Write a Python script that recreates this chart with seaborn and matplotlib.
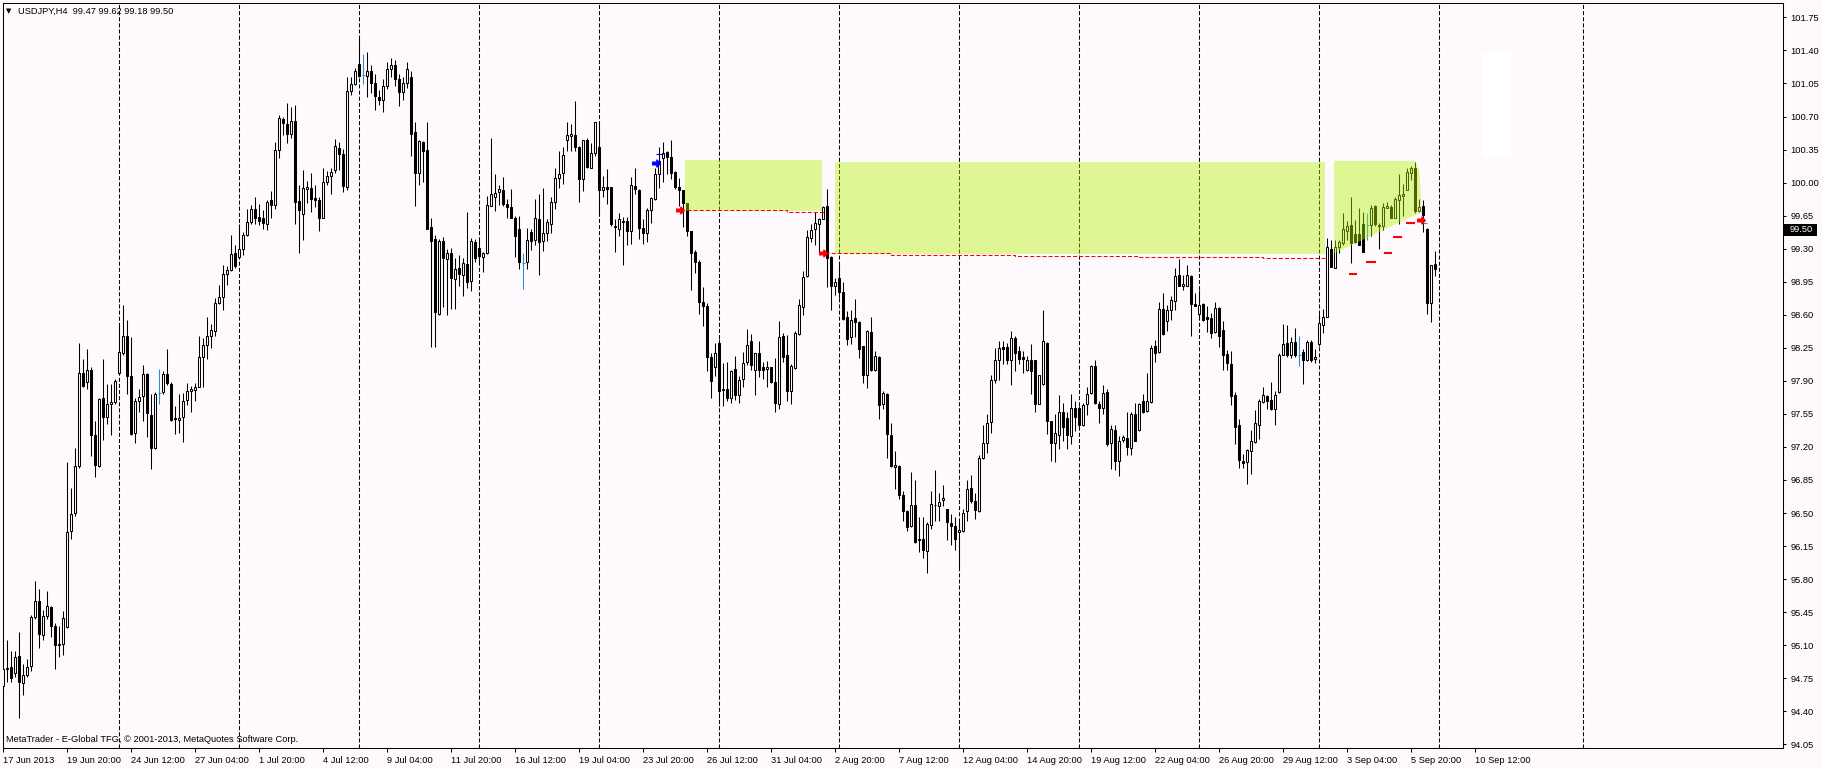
import numpy as np
import matplotlib
matplotlib.use('Agg')
import matplotlib.pyplot as plt
import matplotlib.transforms as mtransforms
from matplotlib.patches import Rectangle, Polygon
from matplotlib.path import Path
import seaborn as sns

# USDJPY H4 candles, bar index 0 = 17 Jun 2013 00:00
opens = [
    94.67, 94.85, 94.87, 94.81, 94.99, 94.70, 94.78, 94.88, 95.40, 95.57,
    95.21, 95.41, 95.50, 95.30, 95.11, 95.11, 95.29, 96.31, 96.50, 97.00,
    97.98, 97.89, 98.02, 97.33, 97.00, 97.72, 97.52, 97.66, 97.68, 97.98,
    98.20, 98.38, 97.95, 97.35, 97.69, 97.74, 97.97, 97.54, 97.19, 97.77,
    97.78, 97.97, 97.87, 97.51, 97.49, 97.52, 97.70, 97.79, 97.80, 97.83,
    98.15, 98.28, 98.38, 98.43, 98.72, 98.79, 99.03, 99.07, 99.25, 99.21,
    99.30, 99.44, 99.58, 99.72, 99.64, 99.62, 99.56, 99.82, 99.76, 100.35,
    100.67, 100.62, 100.51, 100.65, 99.81, 99.67, 99.93, 99.94, 99.84, 99.82,
    99.63, 100.01, 100.07, 100.13, 100.37, 100.30, 99.95, 100.97, 101.04, 101.26,
    101.14, 101.13, 101.18, 101.05, 100.91, 100.88, 101.02, 101.20, 101.25, 101.10,
    100.96, 101.06, 101.12, 100.54, 100.10, 100.43, 100.35, 99.53, 99.40, 98.61,
    99.38, 99.19, 99.25, 98.98, 99.10, 99.02, 99.14, 98.96, 99.37, 99.31,
    99.21, 99.25, 99.75, 99.85, 99.90, 99.92, 99.77, 99.74, 99.63, 99.51,
    99.15, 99.16, 99.48, 99.39, 99.61, 99.38, 99.47, 99.56, 99.80, 100.05,
    100.10, 100.45, 100.49, 100.50, 100.38, 100.04, 100.45, 100.16, 100.31, 100.38,
    99.92, 99.95, 99.95, 99.54, 99.51, 99.59, 99.59, 99.49, 99.96, 99.92,
    99.52, 99.47, 99.71, 99.83, 100.09, 100.26, 100.32, 100.27, 100.11, 99.95,
    99.92, 99.78, 99.49, 99.27, 99.16, 98.74, 98.69, 98.15, 98.05, 98.30,
    97.80, 97.81, 97.72, 98.03, 97.75, 97.92, 98.10, 98.32, 98.02, 98.20,
    98.05, 98.03, 98.05, 97.89, 97.65, 98.38, 98.17, 97.79, 98.04, 98.40,
    98.68, 99.01, 99.41, 99.51, 99.56, 99.61, 99.75, 99.21, 98.91, 98.99,
    98.84, 98.58, 98.36, 98.57, 98.52, 98.27, 97.96, 98.42, 98.02, 98.15,
    97.65, 97.76, 97.33, 96.99, 97.00, 96.69, 96.52, 96.36, 96.59, 96.22,
    96.23, 96.10, 96.37, 96.58, 96.57, 96.64, 96.54, 96.39, 96.36, 96.30,
    96.31, 96.52, 96.76, 96.63, 96.52, 97.08, 97.24, 97.46, 97.91, 98.12,
    98.26, 98.26, 98.12, 98.35, 98.22, 98.15, 98.01, 98.12, 98.12, 97.66,
    97.87, 98.30, 97.47, 97.24, 97.33, 97.57, 97.51, 97.32, 97.61, 97.61,
    97.43, 97.65, 97.77, 98.06, 97.66, 97.61, 97.78, 97.24, 97.38, 97.05,
    97.27, 97.30, 97.19, 97.55, 97.38, 97.69, 97.58, 97.68, 98.27, 98.21,
    98.66, 98.53, 98.65, 98.75, 99.02, 98.90, 98.91, 99.01, 98.71, 98.61,
    98.71, 98.58, 98.57, 98.42, 98.67, 98.44, 98.18, 98.08, 97.75, 97.43,
    97.05, 97.04, 97.16, 97.25, 97.43, 97.68, 97.74, 97.70, 97.60, 97.78,
    98.17, 98.30, 98.17, 98.31, 98.17, 98.21, 98.12, 98.31, 98.13, 98.29,
    98.49, 98.58, 99.30, 99.10, 99.32, 99.36, 99.49, 99.55, 99.46, 99.46,
    99.56, 99.55, 99.55, 99.75, 99.54, 99.54, 99.73, 99.74, 99.63, 99.82,
    99.86, 99.92, 100.10, 100.16, 99.70, 99.75, 99.51, 98.72, 99.14,
]
highs = [
    94.86, 95.15, 95.04, 95.04, 95.24, 94.90, 94.95, 95.42, 95.78, 95.70,
    95.47, 95.67, 95.52, 95.33, 95.30, 95.46, 97.04, 96.76, 97.19, 98.30,
    98.13, 98.24, 98.05, 97.47, 97.72, 98.13, 97.87, 97.87, 97.92, 98.50,
    98.70, 98.55, 98.36, 97.72, 97.81, 98.07, 97.98, 97.76, 97.78, 98.03,
    98.00, 98.24, 97.89, 97.63, 97.76, 97.77, 97.88, 97.85, 97.88, 98.38,
    98.35, 98.58, 98.50, 98.78, 98.92, 99.13, 99.12, 99.44, 99.34, 99.56,
    99.48, 99.72, 99.76, 99.85, 99.77, 99.71, 99.82, 99.91, 100.43, 100.72,
    100.70, 100.84, 100.80, 100.82, 99.97, 100.13, 100.02, 100.10, 99.97, 99.85,
    100.16, 100.12, 100.15, 100.46, 100.43, 100.36, 101.12, 101.12, 101.21, 101.53,
    101.36, 101.38, 101.25, 101.15, 100.98, 101.10, 101.28, 101.32, 101.30, 101.15,
    101.12, 101.28, 101.18, 100.64, 100.45, 100.44, 100.64, 99.63, 99.44, 99.40,
    99.42, 99.30, 99.31, 99.20, 99.23, 99.20, 99.69, 99.41, 99.40, 99.41,
    99.26, 99.86, 100.47, 100.09, 99.98, 100.06, 99.83, 99.93, 99.65, 99.65,
    99.25, 99.52, 99.51, 99.83, 99.88, 99.94, 99.61, 99.85, 100.16, 100.33,
    100.38, 100.64, 100.62, 100.86, 100.39, 100.45, 100.47, 100.42, 100.64, 100.64,
    100.07, 100.14, 99.95, 99.61, 99.68, 99.64, 99.64, 100.06, 100.16, 99.93,
    99.61, 99.73, 99.85, 100.16, 100.38, 100.43, 100.33, 100.45, 100.12, 100.05,
    99.92, 99.78, 99.49, 99.29, 99.18, 98.89, 98.72, 98.20, 98.30, 98.34,
    98.09, 98.10, 98.02, 98.16, 97.95, 98.21, 98.45, 98.40, 98.20, 98.32,
    98.10, 98.11, 98.05, 98.14, 98.53, 98.41, 98.39, 98.08, 98.43, 98.77,
    99.06, 99.50, 99.56, 99.69, 99.62, 99.75, 99.93, 99.22, 98.99, 99.13,
    98.95, 98.64, 98.65, 98.77, 98.53, 98.27, 98.44, 98.58, 98.22, 98.16,
    97.79, 97.77, 97.45, 97.16, 97.01, 96.73, 96.53, 96.93, 96.85, 96.46,
    96.46, 96.40, 96.73, 96.96, 96.71, 96.80, 96.54, 96.49, 96.46, 96.43,
    96.54, 96.85, 96.90, 96.71, 97.12, 97.43, 97.55, 97.96, 98.25, 98.32,
    98.32, 98.30, 98.43, 98.37, 98.27, 98.22, 98.16, 98.29, 98.12, 97.96,
    98.65, 98.31, 97.48, 97.55, 97.75, 97.67, 97.57, 97.76, 97.69, 97.63,
    97.67, 97.84, 98.07, 98.12, 97.69, 97.86, 97.81, 97.43, 97.43, 97.32,
    97.33, 97.57, 97.57, 97.67, 97.67, 97.76, 97.98, 98.28, 98.33, 98.74,
    98.83, 98.70, 98.80, 99.10, 99.19, 99.02, 99.13, 99.02, 98.83, 98.86,
    98.72, 98.69, 98.62, 98.74, 98.68, 98.53, 98.23, 98.22, 97.78, 97.50,
    97.13, 97.18, 97.38, 97.59, 97.71, 97.84, 97.75, 97.89, 97.79, 98.20,
    98.50, 98.49, 98.36, 98.46, 98.38, 98.24, 98.33, 98.33, 98.24, 98.61,
    98.66, 99.41, 99.39, 99.39, 99.39, 99.68, 99.59, 99.85, 99.60, 99.73,
    99.69, 99.68, 99.76, 99.76, 99.57, 99.78, 99.79, 99.76, 99.85, 100.09,
    99.99, 100.16, 100.18, 100.22, 99.83, 99.82, 99.52, 99.13, 99.28,
]
lows = [
    94.57, 94.71, 94.71, 94.76, 94.33, 94.57, 94.76, 94.83, 95.38, 95.07,
    95.16, 95.38, 95.19, 94.85, 94.97, 95.00, 95.28, 96.23, 96.47, 96.98,
    97.83, 97.81, 97.10, 96.88, 96.99, 97.27, 97.44, 97.33, 97.66, 97.97,
    98.17, 97.76, 97.33, 97.24, 97.57, 97.47, 97.31, 96.97, 97.18, 97.66,
    97.76, 97.86, 97.47, 97.34, 97.35, 97.25, 97.64, 97.57, 97.69, 97.83,
    97.84, 98.13, 98.25, 98.38, 98.71, 98.65, 98.92, 99.06, 99.10, 99.21,
    99.23, 99.43, 99.56, 99.56, 99.55, 99.51, 99.50, 99.62, 99.72, 100.26,
    100.50, 100.42, 100.47, 99.56, 99.25, 99.39, 99.78, 99.69, 99.74, 99.49,
    99.62, 99.97, 99.88, 100.10, 100.13, 99.90, 99.92, 100.93, 101.03, 101.12,
    101.04, 100.91, 100.95, 100.77, 100.82, 100.75, 100.99, 101.12, 101.02, 100.81,
    100.88, 101.00, 100.28, 99.75, 99.97, 100.01, 99.51, 98.26, 98.26, 98.60,
    98.68, 98.60, 98.66, 98.66, 98.91, 98.80, 98.88, 98.85, 99.16, 99.15,
    99.05, 99.24, 99.75, 99.70, 99.76, 99.75, 99.63, 99.63, 99.21, 99.08,
    98.87, 99.08, 99.29, 99.34, 99.02, 99.28, 99.38, 99.47, 99.72, 99.94,
    99.99, 100.34, 100.34, 100.33, 99.79, 99.91, 100.16, 100.16, 100.28, 99.66,
    99.85, 99.77, 99.54, 99.27, 99.43, 99.13, 99.34, 99.35, 99.88, 99.40,
    99.35, 99.37, 99.57, 99.82, 99.94, 100.01, 100.09, 100.04, 99.93, 99.75,
    99.53, 99.43, 98.86, 99.04, 98.61, 98.48, 98.00, 97.72, 97.95, 97.63,
    97.63, 97.69, 97.67, 97.70, 97.67, 97.84, 98.07, 98.02, 97.75, 97.94,
    97.92, 97.84, 97.88, 97.57, 97.60, 98.10, 97.69, 97.65, 98.03, 98.39,
    98.60, 99.00, 99.37, 99.34, 99.27, 99.61, 98.89, 98.65, 98.81, 98.78,
    98.55, 98.28, 98.29, 98.36, 98.14, 97.88, 97.82, 98.00, 98.00, 97.50,
    97.60, 97.08, 96.99, 96.75, 96.65, 96.42, 96.31, 96.35, 96.18, 96.09,
    96.02, 95.86, 96.33, 96.42, 96.42, 96.57, 96.21, 96.16, 96.11, 95.92,
    96.30, 96.42, 96.61, 96.44, 96.51, 97.07, 97.14, 97.35, 97.88, 97.91,
    98.08, 98.08, 97.86, 98.00, 98.08, 97.98, 98.00, 97.76, 97.57, 97.65,
    97.86, 97.34, 97.05, 97.04, 97.18, 97.26, 97.18, 97.23, 97.37, 97.41,
    97.42, 97.54, 97.76, 97.66, 97.45, 97.55, 97.21, 96.97, 96.96, 96.89,
    97.25, 97.12, 97.12, 97.26, 97.37, 97.56, 97.57, 97.67, 98.10, 98.20,
    98.39, 98.43, 98.54, 98.65, 98.90, 98.86, 98.90, 98.37, 98.69, 98.58,
    98.53, 98.42, 98.35, 98.41, 98.26, 98.02, 98.02, 97.64, 97.23, 96.98,
    96.98, 96.81, 96.91, 97.24, 97.28, 97.67, 97.60, 97.59, 97.43, 97.77,
    98.17, 98.15, 98.14, 98.15, 98.06, 97.87, 98.11, 98.10, 98.09, 98.27,
    98.41, 98.58, 99.11, 99.10, 99.25, 99.34, 99.39, 99.15, 99.36, 99.34,
    99.26, 99.39, 99.43, 99.54, 99.30, 99.50, 99.73, 99.63, 99.63, 99.56,
    99.65, 99.92, 100.03, 99.68, 99.69, 99.48, 98.61, 98.52, 99.01,
]
closes = [
    94.85, 94.86, 94.75, 94.98, 94.71, 94.78, 94.87, 95.40, 95.57, 95.22,
    95.41, 95.51, 95.30, 95.10, 95.10, 95.39, 96.30, 96.49, 97.00, 97.98,
    97.85, 98.02, 97.33, 97.01, 97.71, 97.52, 97.65, 97.68, 97.90, 98.21,
    98.38, 97.95, 97.34, 97.69, 97.73, 97.97, 97.56, 97.19, 97.76, 97.77,
    97.97, 97.88, 97.49, 97.50, 97.51, 97.69, 97.79, 97.81, 97.83, 98.15,
    98.28, 98.38, 98.44, 98.73, 98.79, 99.03, 99.07, 99.24, 99.12, 99.30,
    99.44, 99.58, 99.72, 99.63, 99.59, 99.57, 99.80, 99.76, 100.35, 100.68,
    100.63, 100.51, 100.65, 99.79, 99.71, 99.94, 99.95, 99.83, 99.82, 99.63,
    100.01, 100.07, 100.11, 100.39, 100.30, 99.96, 100.97, 101.04, 101.18, 101.13,
    101.14, 101.18, 101.05, 100.92, 100.87, 101.02, 101.20, 101.25, 101.10, 100.96,
    101.06, 101.20, 100.52, 100.10, 100.44, 100.33, 99.51, 99.38, 98.63, 99.38,
    99.20, 99.25, 98.99, 99.08, 99.03, 99.15, 98.95, 99.38, 99.20, 99.22,
    99.25, 99.76, 99.88, 99.89, 99.93, 99.77, 99.74, 99.63, 99.43, 99.16,
    99.15, 99.39, 99.38, 99.63, 99.37, 99.47, 99.58, 99.80, 100.05, 100.09,
    100.29, 100.50, 100.52, 100.38, 100.04, 100.45, 100.17, 100.31, 100.64, 99.92,
    99.95, 99.93, 99.56, 99.53, 99.61, 99.58, 99.49, 99.97, 99.93, 99.52,
    99.47, 99.71, 99.84, 100.09, 100.23, 100.31, 100.27, 100.10, 99.95, 99.92,
    99.78, 99.49, 99.25, 99.16, 98.74, 98.69, 98.15, 97.90, 98.19, 97.79,
    97.81, 97.72, 98.00, 97.75, 97.91, 98.09, 98.28, 98.07, 98.19, 98.02,
    98.01, 98.05, 97.89, 97.67, 98.36, 98.15, 97.79, 98.06, 98.41, 98.70,
    99.00, 99.42, 99.50, 99.57, 99.61, 99.74, 99.20, 98.91, 98.95, 98.84,
    98.56, 98.34, 98.55, 98.52, 98.24, 97.96, 98.43, 98.01, 98.16, 97.64,
    97.77, 97.34, 97.00, 97.01, 96.69, 96.52, 96.35, 96.59, 96.19, 96.21,
    96.11, 96.38, 96.60, 96.59, 96.62, 96.66, 96.40, 96.36, 96.23, 96.32,
    96.50, 96.75, 96.63, 96.53, 97.08, 97.24, 97.45, 97.91, 98.12, 98.25,
    98.24, 98.12, 98.35, 98.20, 98.13, 98.13, 98.12, 98.00, 97.65, 97.96,
    98.32, 97.48, 97.24, 97.35, 97.57, 97.41, 97.33, 97.61, 97.52, 97.43,
    97.64, 97.76, 98.06, 97.67, 97.61, 97.77, 97.23, 97.39, 97.05, 97.26,
    97.31, 97.20, 97.55, 97.26, 97.66, 97.57, 97.69, 98.25, 98.20, 98.66,
    98.40, 98.65, 98.76, 99.01, 98.91, 98.93, 99.02, 98.71, 98.69, 98.70,
    98.55, 98.56, 98.41, 98.67, 98.38, 98.17, 98.09, 97.74, 97.41, 97.06,
    97.03, 97.17, 97.26, 97.45, 97.69, 97.75, 97.69, 97.60, 97.75, 98.17,
    98.29, 98.17, 98.31, 98.17, 98.17, 98.12, 98.31, 98.12, 98.15, 98.51,
    98.58, 99.32, 99.11, 99.32, 99.37, 99.51, 99.54, 99.36, 99.37, 99.34,
    99.27, 99.55, 99.73, 99.56, 99.55, 99.74, 99.75, 99.63, 99.83, 99.87,
    99.88, 100.11, 100.16, 99.70, 99.74, 99.66, 98.72, 99.13, 99.09,
]
assert len(opens) == len(highs) == len(lows) == len(closes) == 359

# bars drawn in the "doji" colour
doji_bars = [39, 90, 130, 324, 341]

# weekly separators (bar index)
grid_bars = [29, 59, 89, 119, 149, 179, 209, 239, 269, 299, 329, 359, 395]

x_tick_bars = list(range(0, 369, 16))
x_tick_labels = ['17 Jun 2013', '19 Jun 20:00', '24 Jun 12:00', '27 Jun 04:00', '1 Jul 20:00',
                 '4 Jul 12:00', '9 Jul 04:00', '11 Jul 20:00', '16 Jul 12:00', '19 Jul 04:00',
                 '23 Jul 20:00', '26 Jul 12:00', '31 Jul 04:00', '2 Aug 20:00', '7 Aug 12:00',
                 '12 Aug 04:00', '14 Aug 20:00', '19 Aug 12:00', '22 Aug 04:00', '26 Aug 20:00',
                 '29 Aug 12:00', '3 Sep 04:00', '5 Sep 20:00', '10 Sep 12:00']
y_ticks = [94.05, 94.40, 94.75, 95.10, 95.45, 95.80, 96.15, 96.50, 96.85, 97.20, 97.55, 97.90,
           98.25, 98.60, 98.95, 99.30, 99.65, 100.00, 100.35, 100.70, 101.05, 101.40, 101.75]

# zones (bar index / price)
box_left = [170.4, 207.9]
box_right = [204.6, 330.4]
box_low = [99.70, 99.24]
box_high = [100.24, 100.22]
zone3_x = [332.7, 352.9, 354.0, 354.6, 332.7]
zone3_y = [100.23, 100.23, 100.13, 99.69, 99.25]

# dashed level lines
level1_x = [170.9, 196.0, 205.4]
level1_y = [99.71, 99.69, 99.69]
level2_x = [205.4, 222.0, 253.0, 284.0, 315.0, 330.9]
level2_y = [99.25, 99.23, 99.22, 99.21, 99.20, 99.20]

# short order marks
mark_x0 = [336.5, 340.7, 345.2, 347.5, 350.7]
mark_x1 = [338.4, 343.2, 347.2, 349.7, 352.9]
mark_y = [99.03, 99.16, 99.25, 99.42, 99.57]

red_arrow_x = [169.2, 205.0, 354.3]
red_arrow_y = [99.71, 99.25, 99.60]
blue_arrow_x = [163.2]
blue_arrow_y = [100.21]

last_price = 99.50
header = 'USDJPY,H4  99.47 99.62 99.18 99.50'
footer = 'MetaTrader - E-Global TFG, \u00a9 2001-2013, MetaQuotes Software Corp.'

# ---------------------------------------------------------------------------
bg = '#fdf9fd'
blue = '#2b8cd2'
lime = (181 / 255, 243 / 255, 0.0)

sns.set_theme(style='white')
plt.rcParams['font.family'] = ['Liberation Sans', 'DejaVu Sans']
plt.rcParams['lines.scale_dashes'] = False
fs = 6.7

W, H = 1823, 768
fig = plt.figure(figsize=(W / 100, H / 100), dpi=100, facecolor=bg)
ax = fig.add_axes([2.5 / W, 20 / H, 1780 / W, 745.5 / H])
ax.set_facecolor(bg)
ax.set_xlim(-0.2, 444.8)
ax.set_ylim(94.011, 101.908)

o = np.array(opens)
h = np.array(highs)
l = np.array(lows)
c = np.array(closes)
idx = np.arange(len(c))
is_doji = np.isin(idx, doji_bars)
up = (c >= o) & ~is_doji
dn = (c < o) & ~is_doji

# faint white patch in the empty area
ax.add_patch(Rectangle((369.85, 100.27), 7.05, 1.10, facecolor='white', lw=0, zorder=0.5))

for gx in grid_bars:
    ax.axvline(gx, color='black', lw=0.75, dashes=(2.9, 1.5), zorder=1)

wick_col = np.where(is_doji, blue, 'black')
ax.vlines(idx, l, h, colors=wick_col, lw=0.75, zorder=3)
lo = np.minimum(o, c)
hgt = np.abs(c - o)
ax.bar(idx[up], hgt[up], bottom=lo[up], width=0.5, color='white', edgecolor='black',
       lw=0.75, zorder=4)
ax.bar(idx[dn], hgt[dn], bottom=lo[dn], width=0.5, color='black', edgecolor='black',
       lw=0.75, zorder=4)
ax.hlines(c[is_doji], idx[is_doji] - 0.38, idx[is_doji] + 0.38, colors=blue, lw=0.75, zorder=4)

# zones drawn on top, semi transparent
for x0, x1, y0, y1 in zip(box_left, box_right, box_low, box_high):
    ax.add_patch(Rectangle((x0, y0), x1 - x0, y1 - y0, facecolor=lime, alpha=0.42, lw=0, zorder=5))
ax.add_patch(Polygon(np.column_stack([zone3_x, zone3_y]), closed=True, facecolor=lime,
                     alpha=0.42, lw=0, zorder=5))

for lx, ly in [(level1_x, level1_y), (level2_x, level2_y)]:
    sns.lineplot(x=lx, y=ly, ax=ax, color='red', lw=0.75, drawstyle='steps-post',
                 linestyle=(0, (2.9, 1.5)), estimator=None, zorder=6)

ax.hlines(mark_y, mark_x0, mark_x1, colors='red', lw=1.5, zorder=6)
ax.hlines([99.57], [355.0], [356.0], colors=blue, lw=0.75, zorder=6)
ax.hlines([100.30], [163.2], [164.9], colors='blue', lw=0.75, zorder=6)

arrow = Path([(-1, -0.35), (0.1, -0.35), (0.1, -0.9), (1, 0), (0.1, 0.9), (0.1, 0.35),
              (-1, 0.35), (-1, -0.35)], closed=True)
ax.plot(red_arrow_x, red_arrow_y, ls='none', marker=arrow, ms=5.5, color='red', mec='red', zorder=7)
ax.plot(blue_arrow_x, blue_arrow_y, ls='none', marker=arrow, ms=5.5, color='blue', mec='blue', zorder=7)

# axes styling
for sp in ax.spines.values():
    sp.set_color('black')
    sp.set_linewidth(0.75)
ax.yaxis.tick_right()
ax.set_yticks(y_ticks)
ax.set_yticklabels([f'{v:.2f}' for v in y_ticks])
ax.set_xticks(x_tick_bars)
ax.set_xticklabels(x_tick_labels, ha='left')
ax.tick_params(axis='y', direction='out', length=2.5, width=0.75, pad=3, labelsize=fs,
               colors='black', right=True, left=False)
ax.tick_params(axis='x', direction='out', length=3, width=0.75, pad=2.5, labelsize=fs,
               colors='black', bottom=True)
ax.set_xlabel('')
ax.set_ylabel('')
ax.grid(False)

# last price marker on the price scale
trans = mtransforms.blended_transform_factory(ax.transAxes, ax.transData)
ax.add_patch(Rectangle((1.0 + 0.5 / 1780, last_price - 0.064), 34 / 1780, 0.128,
                       transform=trans, facecolor='black', lw=0, clip_on=False, zorder=8))
ax.text(1.0 + 7.5 / 1780, last_price, f'{last_price:.2f}', transform=trans, color='white',
        fontsize=fs, va='center', ha='left', clip_on=False, zorder=9)

fig.text(6 / W, 1 - 11 / H, '\u25bc', fontsize=5, va='center', ha='left',
         family=['DejaVu Sans'], color='black')
fig.text(18 / W, 1 - 11 / H, header, fontsize=fs, va='center', ha='left', color='black')
fig.text(6 / W, 1 - 740 / H, footer, fontsize=fs, va='center', ha='left', color='black')

fig.savefig('out.png', dpi=100, facecolor=bg)
